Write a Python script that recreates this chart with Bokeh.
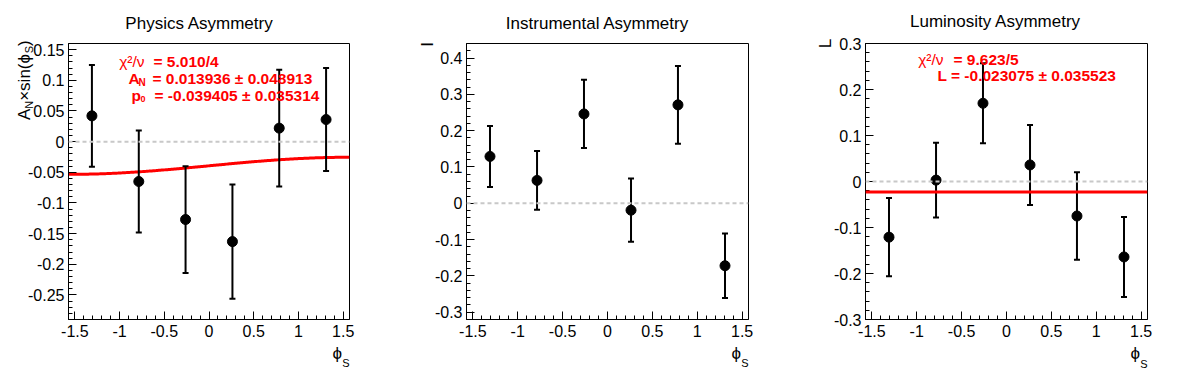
import numpy as np
from bokeh.plotting import figure
from bokeh.models import Range1d, FixedTicker, Span
from bokeh.core.properties import value
from bokeh.layouts import row
from bokeh.embed import file_html
from bokeh.resources import INLINE

# ---------------- data ----------------
phi_bins = [-1.309, -0.785, -0.262, 0.262, 0.785, 1.309]

phys_val = [0.042, -0.065, -0.127, -0.163, 0.022, 0.036]
phys_err = [0.083, 0.083, 0.087, 0.093, 0.095, 0.084]

instr_val = [0.129, 0.063, 0.246, -0.019, 0.271, -0.172]
instr_err = [0.084, 0.081, 0.094, 0.087, 0.107, 0.089]

lumi_val = [-0.121, 0.003, 0.170, 0.036, -0.075, -0.164]
lumi_err = [0.085, 0.081, 0.087, 0.087, 0.095, 0.087]

phys_chi2 = "5.010/4"
phys_AN, phys_AN_err = 0.013936, 0.048913
phys_p0, phys_p0_err = -0.039405, 0.035314
lumi_chi2 = "9.623/5"
lumi_L, lumi_L_err = -0.023075, 0.035523

titles = ["Physics Asymmetry", "Instrumental Asymmetry", "Luminosity Asymmetry"]

x_ticks = [-1.5, -1.0, -0.5, 0.0, 0.5, 1.0, 1.5]
x_tick_labels = ["-1.5", "-1", "-0.5", "0", "0.5", "1", "1.5"]
phys_y_ticks = [-0.25, -0.2, -0.15, -0.1, -0.05, 0.0, 0.05, 0.1, 0.15]
phys_y_labels = ["-0.25", "-0.2", "-0.15", "-0.1", "-0.05", "0", "0.05", "0.1", "0.15"]
instr_y_ticks = [-0.3, -0.2, -0.1, 0.0, 0.1, 0.2, 0.3, 0.4]
instr_y_labels = ["-0.3", "-0.2", "-0.1", "0", "0.1", "0.2", "0.3", "0.4"]
lumi_y_ticks = [-0.3, -0.2, -0.1, 0.0, 0.1, 0.2, 0.3]
lumi_y_labels = ["-0.3", "-0.2", "-0.1", "0", "0.1", "0.2", "0.3"]

# ---------------- layout (page pixels) ----------------
FONT = "Liberation Sans"
RED = "#ff0000"
HALF_PI = np.pi / 2
H = 370
PAGE_TOP = 0
PHI = "\u03d5"

geoms = [
    dict(fig_left=0, width=400, fl=68, fr=349, ft=41, fb=319, x0=-HALF_PI, x1=HALF_PI, y0=-0.29, y1=0.16),
    dict(fig_left=400, width=400, fl=466, fr=748, ft=41, fb=319, x0=-HALF_PI, x1=HALF_PI, y0=-0.32, y1=0.44),
    dict(fig_left=800, width=396, fl=865, fr=1147, ft=43, fb=319, x0=-HALF_PI, x1=HALF_PI, y0=-0.3, y1=0.3),
]


def to_data(g, px, py):
    x = g["x0"] + (px - g["fl"]) / (g["fr"] - g["fl"]) * (g["x1"] - g["x0"])
    y = g["y0"] + (g["fb"] - py) / (g["fb"] - g["ft"]) * (g["y1"] - g["y0"])
    return x, y


def add_text(p, g, px, py, text, size, color="black", bold=False, align="left",
             baseline="alphabetic", angle=0.0):
    x, y = to_data(g, px, py)
    p.text(x=[x], y=[y], text=[text], angle=angle, text_font=value(FONT),
           text_font_size=f"{size}px", text_color=color,
           text_font_style="bold" if bold else "normal",
           text_align=align, text_baseline=baseline, level="overlay")


WID = {"A": .667, "N": .722, "×": .584, "s": .5, "i": .222, "n": .556, "(": .333,
       ")": .333, PHI: .62, "S": .667}


def text_w(t, size):
    return sum(WID.get(c, .556) for c in t) * size


def make_fig(g, yticks, ylabels, yminor):
    fl_rel = g["fl"] - g["fig_left"]
    fw = g["fr"] - g["fl"]
    p = figure(width=g["width"], height=H, output_backend="svg", toolbar_location=None,
               title=None, x_range=Range1d(g["x0"], g["x1"]), y_range=Range1d(g["y0"], g["y1"]),
               min_border_left=fl_rel, min_border_right=g["width"] - fl_rel - fw,
               min_border_top=g["ft"] - PAGE_TOP, min_border_bottom=H - (g["fb"] - PAGE_TOP))
    p.xgrid.visible = False
    p.ygrid.visible = False
    p.background_fill_color = "white"
    p.border_fill_color = "white"
    p.outline_line_color = "black"
    p.outline_line_width = 1
    p.outline_line_alpha = 1.0
    xminor = list(np.round(np.arange(-1.5, 1.501, 0.1), 3))
    p.xaxis.ticker = FixedTicker(ticks=x_ticks, minor_ticks=xminor)
    p.xaxis.major_label_overrides = dict(zip(x_ticks, x_tick_labels))
    p.yaxis.ticker = FixedTicker(ticks=yticks, minor_ticks=yminor)
    p.yaxis.major_label_overrides = dict(zip(yticks, ylabels))
    for ax in (p.xaxis, p.yaxis):
        ax.major_tick_in = 8
        ax.major_tick_out = 0
        ax.minor_tick_in = 4
        ax.minor_tick_out = 0
        ax.axis_line_color = "black"
        ax.major_tick_line_color = "black"
        ax.minor_tick_line_color = "black"
        ax.major_label_text_font = FONT
        ax.major_label_text_font_size = "16px"
        ax.major_label_text_color = "black"
    p.xaxis.major_label_standoff = 5
    p.yaxis.major_label_standoff = 4
    p.add_layout(Span(location=0, dimension="width", line_color="#c8c8c8",
                      line_dash="4 3", line_width=2))
    return p


def draw_points(p, vals, errs):
    lo = [v - e for v, e in zip(vals, errs)]
    hi = [v + e for v, e in zip(vals, errs)]
    p.segment(phi_bins, lo, phi_bins, hi, line_color="black", line_width=2)
    p.scatter(phi_bins, lo, marker="dash", size=6, line_color="black", line_width=2)
    p.scatter(phi_bins, hi, marker="dash", size=6, line_color="black", line_width=2)
    p.scatter(phi_bins, vals, marker="circle", size=10, fill_color="black", line_color="black")


def title_and_xlabel(p, g, title, cx):
    add_text(p, g, cx, 21, title, 17, align="center")
    add_text(p, g, g["fr"] - 7.5, 353, PHI, 17, align="right")
    add_text(p, g, g["fr"], 363, "S", 11, align="right")


# ---------- panel 1 ----------
g1 = geoms[0]
p1 = make_fig(g1, phys_y_ticks, phys_y_labels, list(np.round(np.arange(-0.29, 0.1601, 0.01), 3)))
xs = np.linspace(g1["x0"], g1["x1"], 200)
p1.line(xs, phys_p0 + phys_AN * np.sin(xs), line_color=RED, line_width=3)
draw_points(p1, phys_val, phys_err)
title_and_xlabel(p1, g1, titles[0], 199)
# rotated y title  A_N×sin(ϕ_S)
segs = [("A", 17, 0), ("N", 11, 4), ("×sin(" + PHI, 17, 0), ("S", 11, 4), (")", 17, 0)]
ypos = 118
for t, s, dx in segs:
    add_text(p1, g1, 24 + dx, ypos, t, s, angle=HALF_PI)
    ypos -= text_w(t, s)
# fit stats
SZ = 15.5
add_text(p1, g1, 144, 59, "χ²/ν", SZ, color=RED, align="right")
add_text(p1, g1, 153, 59, f"= {phys_chi2}", SZ, color=RED, bold=True)
add_text(p1, g1, 128, 76, "A", SZ, color=RED, bold=True)
add_text(p1, g1, 138, 80, "N", 10, color=RED, bold=True)
add_text(p1, g1, 152, 76, f"= {phys_AN:.6f} ± {phys_AN_err:.6f}", SZ, color=RED, bold=True)
add_text(p1, g1, 131, 93.5, "p", SZ, color=RED, bold=True)
add_text(p1, g1, 140, 96.5, "0", 9, color=RED, bold=True)
add_text(p1, g1, 154, 93.5, f"= {phys_p0:.6f} ± {phys_p0_err:.6f}", SZ, color=RED, bold=True)

# ---------- panel 2 ----------
g2 = geoms[1]
p2 = make_fig(g2, instr_y_ticks, instr_y_labels, list(np.round(np.arange(-0.32, 0.4401, 0.02), 3)))
draw_points(p2, instr_val, instr_err)
title_and_xlabel(p2, g2, titles[1], 597)
add_text(p2, g2, 427, 39.6, "I", 17, align="right", angle=HALF_PI)

# ---------- panel 3 ----------
g3 = geoms[2]
p3 = make_fig(g3, lumi_y_ticks, lumi_y_labels, list(np.round(np.arange(-0.3, 0.3001, 0.02), 3)))
p3.add_layout(Span(location=lumi_L, dimension="width", line_color=RED, line_width=3))
draw_points(p3, lumi_val, lumi_err)
title_and_xlabel(p3, g3, titles[2], 995)
add_text(p3, g3, 825, 38.3, "L", 17, align="right", angle=HALF_PI)
add_text(p3, g3, 943, 59, "χ²/ν", SZ, color=RED, align="right")
add_text(p3, g3, 953, 59, f"= {lumi_chi2}", SZ, color=RED, bold=True)
add_text(p3, g3, 937, 75, f"L = {lumi_L:.6f} ± {lumi_L_err:.6f}", SZ, color=RED, bold=True)

layout = row(p1, p2, p3)
open("out.html", "w").write(file_html(layout, INLINE))
